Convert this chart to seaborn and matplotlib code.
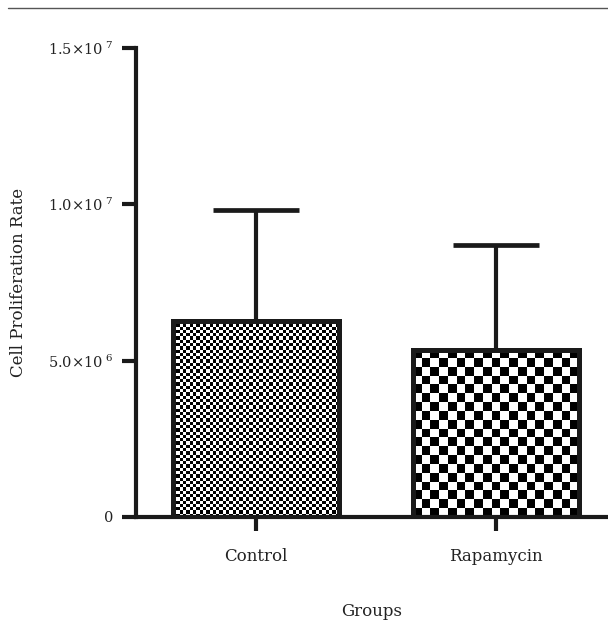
import numpy as np
import pandas as pd
import matplotlib
matplotlib.use("Agg")
import matplotlib.pyplot as plt
from matplotlib.lines import Line2D
import seaborn as sns

groups = ["Control", "Rapamycin"]
means = [6.28e6, 5.35e6]
upper_err = [3.53e6, 3.34e6]
yticks = [0, 5e6, 1e7, 1.5e7]
ytick_labels = ["0", r"5.0×10$^{\ 6}$", r"1.0×10$^{\ 7}$", r"1.5×10$^{\ 7}$"]
checker_px = [3.3, 8.8]   # size of one checker square, pixels

df = pd.DataFrame({"group": groups, "value": means})

sns.set_style("ticks")
plt.rcParams["font.family"] = ["DejaVu Serif"]
plt.rcParams["mathtext.fontset"] = "dejavuserif"

fig = plt.figure(figsize=(6.08, 6.21), dpi=100)
ax = fig.add_axes([136 / 608, 104 / 621, 1 - 136 / 608, (517 - 48) / 621])

sns.barplot(data=df, x="group", y="value", ax=ax, width=0.69,
            color="white", edgecolor="#1a1a1a", linewidth=3.6,
            errorbar=None, zorder=3)

ax.errorbar(range(len(groups)), means, yerr=[[0] * len(groups), upper_err],
            fmt="none", ecolor="#1a1a1a", elinewidth=3, capsize=31,
            capthick=3.4, zorder=1)

ax.set_xlim(-0.5, 1.467)
ax.set_ylim(0, 1.5e7)
fig.canvas.draw()

# checkerboard fill, clipped to each bar
for patch, sq in zip(ax.patches, checker_px):
    patch.set_facecolor("none")
    x0, y0 = patch.get_x(), patch.get_y()
    w, h = patch.get_width(), patch.get_height()
    p0 = ax.transData.transform((x0, y0))
    p1 = ax.transData.transform((x0 + w, y0 + h))
    nx = max(1, int(round((p1[0] - p0[0]) / sq)))
    ny = max(1, int(round((p1[1] - p0[1]) / sq)))
    board = (np.add.outer(np.arange(ny), np.arange(nx)) % 2).astype(float)
    im = ax.imshow(board, cmap="gray", vmin=0.08, vmax=1, aspect="auto",
                   extent=(x0, x0 + w, y0, y0 + h), interpolation="nearest",
                   zorder=2)
    im.set_clip_path(patch)

ax.set_xlim(-0.5, 1.467)
ax.set_ylim(0, 1.5e7)

ax.set_yticks(yticks)
ax.set_yticklabels(ytick_labels)
ax.tick_params(axis="both", width=3, length=10, color="#1a1a1a",
               labelcolor="#222222")
ax.tick_params(axis="y", pad=6.5, labelsize=10.5)
ax.tick_params(axis="x", pad=12, labelsize=12)

for side in ["top", "right"]:
    ax.spines[side].set_visible(False)
for side in ["left", "bottom"]:
    ax.spines[side].set_linewidth(3)
    ax.spines[side].set_color("#1a1a1a")
ax.spines["bottom"].set_zorder(4)

ax.set_xlabel("Groups", fontsize=12, color="#222222")
ax.set_ylabel("Cell Proliferation Rate", fontsize=12, color="#222222")
ax.xaxis.set_label_coords(0.5, -0.183)
ax.yaxis.set_label_coords(-0.231, 0.5)

fig.add_artist(Line2D([8 / 608, 1], [1 - 8 / 621, 1 - 8 / 621],
                      color="#555555", linewidth=1))

fig.savefig("out.png", dpi=100)
